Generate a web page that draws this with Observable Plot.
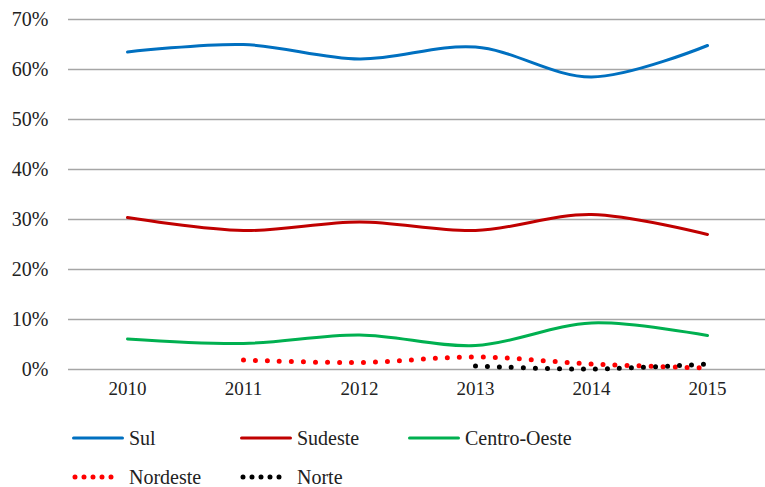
<!DOCTYPE html>
<html><head><meta charset="utf-8">
<script src="https://cdn.jsdelivr.net/npm/d3@7"></script>
<script src="https://cdn.jsdelivr.net/npm/@observablehq/plot@0.6"></script>
<style>
body{margin:0;background:#fff;font-family:'Liberation Serif';color:#222}
#legend{position:relative;width:765px;height:78px}
.item{position:absolute;display:flex;align-items:center;font-size:20px;height:24px}
.item svg{margin-right:5px}
</style>
</head><body><div id="chart"></div><div id="legend"></div><script>
const years = ["2010","2011","2012","2013","2014","2015"];
const sul = [0.635, 0.650, 0.621, 0.645, 0.585, 0.648];
const sudeste = [0.304, 0.278, 0.295, 0.278, 0.310, 0.270];
const centroOeste = [0.061, 0.052, 0.069, 0.048, 0.093, 0.068];
const nordeste = [null, 0.019, 0.014, 0.025, 0.011, 0.003];
const norte = [null, null, null, 0.007, 0.001, 0.011];
const seriesNames = ["Sul","Sudeste","Centro-Oeste","Nordeste","Norte"];
const seriesValues = [sul, sudeste, centroOeste, nordeste, norte];
const colors = ["#0070C0","#C00000","#00B050","#FF0000","#000000"];
const dotted = [false,false,false,true,true];
const yTicks = [0,0.1,0.2,0.3,0.4,0.5,0.6,0.7];
const FONT = "Liberation Serif";

const marks = [
  Plot.gridY(yTicks, {stroke:"#a6a6a6", strokeOpacity:1, strokeWidth:1.5}),
  Plot.axisY(yTicks, {tickFormat: d3.format(".0%"), tickSize:0, tickPadding:20, fontSize:20, fontFamily:FONT}),
  Plot.axisX({tickSize:0, tickPadding:12, fontSize:19, fontFamily:FONT})
];
seriesNames.forEach((name, i) => {
  const rows = years.map((y, j) => ({year:y, value:seriesValues[i][j], series:name})).filter(d => d.value != null);
  marks.push(Plot.line(rows, {
    x:"year", y:"value", curve:"catmull-rom",
    stroke: colors[i],
    strokeWidth: dotted[i] ? 5 : 3,
    strokeDasharray: dotted[i] ? "0,12" : null,
    strokeLinecap: "round"
  }));
});

const chart = Plot.plot({
  width:765, height:409,
  marginLeft:68, marginRight:0, marginTop:19, marginBottom:40,
  style:{fontFamily:FONT, fontSize:"19px", color:"#222", background:"#fff"},
  x:{type:"point", domain:years, padding:0.5, label:null},
  y:{domain:[0,0.7], label:null},
  marks
});
chart.querySelectorAll("text").forEach(t => { t.setAttribute("font-family", FONT); t.style.fontFamily = FONT; });
document.getElementById("chart").appendChild(chart);

const legendPos = [[72,17],[240,17],[408,17],[72,56],[240,56]];
const legend = document.getElementById("legend");
seriesNames.forEach((name, i) => {
  const div = document.createElement("div");
  div.className = "item";
  div.style.left = legendPos[i][0] + "px";
  div.style.top = legendPos[i][1] + "px";
  const ns = "http://www.w3.org/2000/svg";
  const svg = document.createElementNS(ns, "svg");
  svg.setAttribute("width", 52); svg.setAttribute("height", 10);
  const ln = document.createElementNS(ns, "line");
  ln.setAttribute("x1", dotted[i] ? 3 : 1.5); ln.setAttribute("x2", dotted[i] ? 48 : 50.5);
  ln.setAttribute("y1", 5); ln.setAttribute("y2", 5);
  ln.setAttribute("stroke", colors[i]);
  ln.setAttribute("stroke-width", dotted[i] ? 5 : 3);
  ln.setAttribute("stroke-linecap", "round");
  if (dotted[i]) ln.setAttribute("stroke-dasharray", "0,9");
  svg.appendChild(ln);
  div.appendChild(svg);
  const t = document.createElement("span");
  t.style.fontFamily = FONT;
  t.textContent = name;
  div.appendChild(t);
  legend.appendChild(div);
});
</script></body></html>
